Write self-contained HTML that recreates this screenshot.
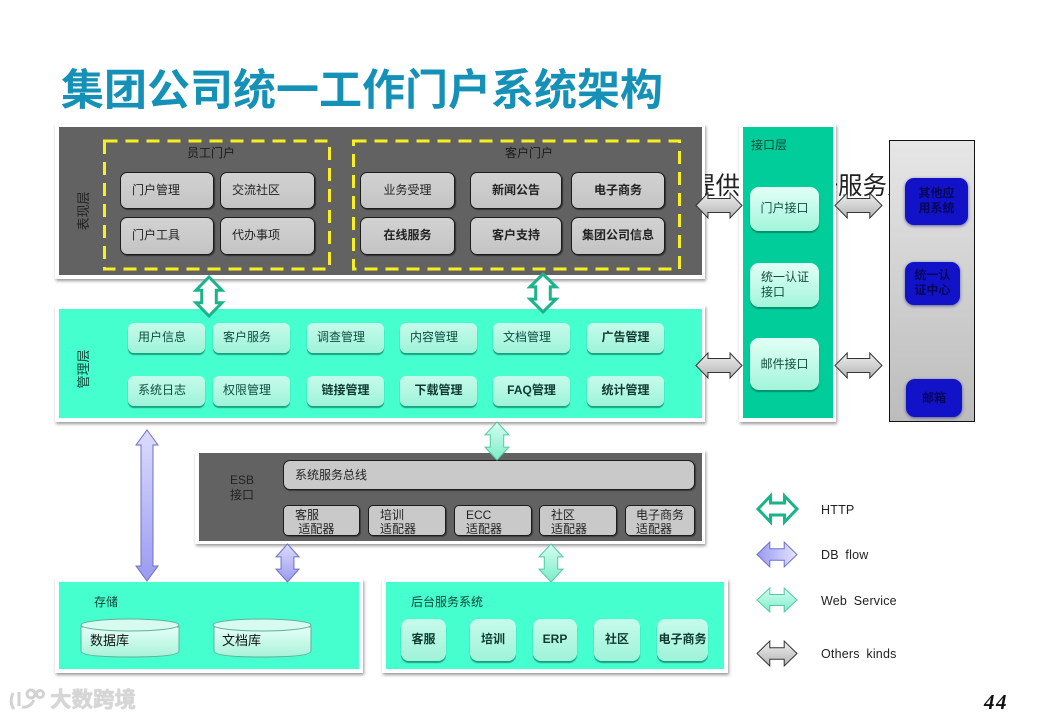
<!DOCTYPE html>
<html lang="zh">
<head>
<meta charset="utf-8">
<title>集团公司统一工作门户系统架构</title>
<style>
html,body{margin:0;padding:0;background:#fff}
#p{position:relative;width:1040px;height:720px;overflow:hidden;background:#fff;font-family:"Liberation Sans","Noto Sans CJK SC",sans-serif;color:#222}
#p div{position:absolute;box-sizing:border-box}
.t{font-size:12px;line-height:16px;white-space:nowrap}
.frame{background:#fff;box-shadow:1px 2px 3px rgba(0,0,0,.4)}
.g{background:#626262}
.m{background:#46ffcf}
.gb{background:linear-gradient(#d2d2d2,#c4c4c4);border:1px solid #1c1c1c;border-radius:7px;box-shadow:1px 1px 1px rgba(0,0,0,.5);font-size:12px;line-height:34px;text-align:center;color:#222}
.gb.b{font-weight:bold}
.tb{background:linear-gradient(#c6fbea,#9ef3d9);border-radius:6px;box-shadow:0 2px 1px rgba(0,110,85,.65);font-size:12px;line-height:29px;text-align:center;color:#114c3e}
.tb.l{text-align:left;padding-left:10px}
.tb.i{background:linear-gradient(#e2fff6,#a2f5da)}
.tb.b{font-weight:bold;color:#103a30}
.ad{background:#c9c9c9;border:1px solid #1c1c1c;border-radius:5px;font-size:12px;line-height:14px;color:#222;padding:2px 0 0 11px;box-shadow:1px 1px 1px rgba(0,0,0,.4)}
.blue{background:#1212c8;border-radius:9px;box-shadow:0 1px 3px rgba(20,20,120,.6);font-size:12px;line-height:15px;text-align:center;font-weight:bold;color:#07075a}
.v{width:44px;height:16px;font-size:13px;line-height:16px;text-align:center;white-space:nowrap;transform:rotate(-90deg)}
.lg{font-size:12.5px;line-height:16px;white-space:nowrap;color:#222;letter-spacing:.2px;word-spacing:3px}
svg{position:absolute;left:0;top:0}
</style>
</head>
<body>
<div id="p">

<div class="t" style="left:61px;top:62px;font-size:43px;line-height:58px;font-weight:bold;color:#1591b7">集团公司统一工作门户系统架构</div>

<div class="t" style="left:691px;top:172px;font-size:24.5px;line-height:30px;color:#222">提供内部统一服务人</div>

<!-- 表现层 -->
<div class="frame" style="left:55px;top:124px;width:650px;height:155px"></div>
<div class="g" style="left:59px;top:127px;width:643px;height:148px"></div>
<div class="v" style="left:62px;top:203px;color:#222">表现层</div>
<div class="t" style="left:187px;top:145px;color:#1a1a1a">员工门户</div>
<div class="t" style="left:505px;top:145px;color:#1a1a1a">客户门户</div>

<div class="gb" style="left:120px;top:172px;width:94px;height:37px;text-align:left;padding-left:11px">门户管理</div>
<div class="gb" style="left:220px;top:172px;width:95px;height:37px;text-align:left;padding-left:11px">交流社区</div>
<div class="gb" style="left:120px;top:217px;width:94px;height:38px;text-align:left;padding-left:11px">门户工具</div>
<div class="gb" style="left:220px;top:217px;width:95px;height:38px;text-align:left;padding-left:11px">代办事项</div>

<div class="gb" style="left:360px;top:172px;width:95px;height:37px">业务受理</div>
<div class="gb b" style="left:470px;top:172px;width:92px;height:37px">新闻公告</div>
<div class="gb b" style="left:571px;top:172px;width:94px;height:37px">电子商务</div>
<div class="gb b" style="left:360px;top:217px;width:95px;height:38px">在线服务</div>
<div class="gb b" style="left:470px;top:217px;width:92px;height:38px">客户支持</div>
<div class="gb b" style="left:571px;top:217px;width:94px;height:38px">集团公司信息</div>

<!-- 管理层 -->
<div class="frame" style="left:55px;top:305px;width:650px;height:117px"></div>
<div class="m" style="left:59px;top:309px;width:643px;height:109px"></div>
<div class="v" style="left:62px;top:361px;color:#14463a">管理层</div>

<div class="tb l" style="left:128px;top:323px;width:77px;height:30px">用户信息</div>
<div class="tb l" style="left:213px;top:323px;width:77px;height:30px">客户服务</div>
<div class="tb l" style="left:307px;top:323px;width:77px;height:30px">调查管理</div>
<div class="tb l" style="left:400px;top:323px;width:77px;height:30px">内容管理</div>
<div class="tb l" style="left:493px;top:323px;width:77px;height:30px">文档管理</div>
<div class="tb b" style="left:587px;top:323px;width:77px;height:30px">广告管理</div>
<div class="tb l" style="left:128px;top:376px;width:77px;height:30px">系统日志</div>
<div class="tb l" style="left:213px;top:376px;width:77px;height:30px">权限管理</div>
<div class="tb b" style="left:307px;top:376px;width:77px;height:30px">链接管理</div>
<div class="tb b" style="left:400px;top:376px;width:77px;height:30px">下载管理</div>
<div class="tb b" style="left:493px;top:376px;width:77px;height:30px">FAQ管理</div>
<div class="tb b" style="left:587px;top:376px;width:77px;height:30px">统计管理</div>

<!-- 接口层 -->
<div class="frame" style="left:739px;top:124px;width:97px;height:298px"></div>
<div style="left:743px;top:127px;width:90px;height:291px;background:#00cd9a"></div>
<div class="t" style="left:751px;top:137px;color:#0b4436">接口层</div>
<div class="tb i" style="left:750px;top:187px;width:69px;height:44px;line-height:43px;border-radius:9px">门户接口</div>
<div class="tb i" style="left:750px;top:263px;width:69px;height:44px;line-height:15px;border-radius:9px;text-align:left;padding:7px 0 0 11px">统一认证<br>接口</div>
<div class="tb i" style="left:750px;top:338px;width:69px;height:52px;line-height:52px;border-radius:9px">邮件接口</div>

<!-- 外部系统 -->
<div style="left:889px;top:140px;width:86px;height:282px;border:1px solid #111;background:linear-gradient(#e6e6e6,#bcbcbc)"></div>
<div class="blue" style="left:905px;top:178px;width:63px;height:47px;padding-top:8px">其他应<br>用系统</div>
<div class="blue" style="left:905px;top:262px;width:55px;height:43px;padding-top:6px">统一认<br>证中心</div>
<div class="blue" style="left:906px;top:379px;width:56px;height:38px;line-height:38px">邮箱</div>

<!-- ESB -->
<div class="frame" style="left:195px;top:450px;width:510px;height:94px"></div>
<div class="g" style="left:199px;top:453px;width:503px;height:88px"></div>
<div class="t" style="left:230px;top:473px;width:30px;color:#222;line-height:15px;white-space:normal">ESB 接口</div>
<div class="ad" style="left:283px;top:460px;width:412px;height:30px;line-height:26px;border-radius:7px;padding:1px 0 0 11px">系统服务总线</div>
<div class="ad" style="left:283px;top:505px;width:77px;height:31px">客服<br>&nbsp;适配器</div>
<div class="ad" style="left:368px;top:505px;width:78px;height:31px">培训<br>适配器</div>
<div class="ad" style="left:454px;top:505px;width:78px;height:31px">ECC<br>适配器</div>
<div class="ad" style="left:539px;top:505px;width:78px;height:31px">社区<br>适配器</div>
<div class="ad" style="left:625px;top:505px;width:70px;height:31px;padding-left:10px">电子商务<br>适配器</div>

<!-- 存储 -->
<div class="frame" style="left:55px;top:579px;width:308px;height:94px"></div>
<div class="m" style="left:59px;top:582px;width:300px;height:87px"></div>
<div class="t" style="left:94px;top:594px;color:#123f34">存储</div>

<!-- 后台 -->
<div class="frame" style="left:382px;top:579px;width:346px;height:94px"></div>
<div class="m" style="left:386px;top:582px;width:338px;height:87px"></div>
<div class="t" style="left:411px;top:594px;color:#123f34">后台服务系统</div>
<div class="tb b" style="left:401px;top:619px;width:45px;height:42px;line-height:41px;border-radius:8px">客服</div>
<div class="tb b" style="left:470px;top:619px;width:46px;height:42px;line-height:41px;border-radius:8px">培训</div>
<div class="tb b" style="left:533px;top:619px;width:44px;height:42px;line-height:41px;border-radius:8px">ERP</div>
<div class="tb b" style="left:594px;top:619px;width:46px;height:42px;line-height:41px;border-radius:8px">社区</div>
<div class="tb b" style="left:657px;top:619px;width:51px;height:42px;line-height:41px;border-radius:8px">电子商务</div>

<svg width="1040" height="720" viewBox="0 0 1040 720" xmlns="http://www.w3.org/2000/svg">
<defs>
<linearGradient id="c1" x1="0" y1="0" x2="0" y2="1"><stop offset="0" stop-color="#e6fff7"/><stop offset="1" stop-color="#a8f2da"/></linearGradient>
<linearGradient id="gh" x1="0" y1="0" x2="0" y2="1"><stop offset="0" stop-color="#efefef"/><stop offset="1" stop-color="#b4b4b4"/></linearGradient>
<linearGradient id="pv" x1="0" y1="0" x2="0" y2="1"><stop offset="0" stop-color="#dcdcff"/><stop offset="1" stop-color="#9a9af0"/></linearGradient>
<linearGradient id="ph" x1="0" y1="0" x2="1" y2="0"><stop offset="0" stop-color="#9a9af0"/><stop offset="1" stop-color="#e4e4ff"/></linearGradient>
<linearGradient id="wv" x1="0" y1="0" x2="0" y2="1"><stop offset="0" stop-color="#d4fff0"/><stop offset="1" stop-color="#7eecc9"/></linearGradient>
<polygon id="hA" points="0,50 26,0 26,22 74,22 74,0 100,50 74,100 74,78 26,78 26,100" vector-effect="non-scaling-stroke"/>
<polygon id="hB" points="0,50 32,0 32,27 68,27 68,0 100,50 68,100 68,73 32,73 32,100" vector-effect="non-scaling-stroke"/>
<polygon id="vA" points="50,0 100,34 78,34 78,66 100,66 50,100 0,66 22,66 22,34 0,34" vector-effect="non-scaling-stroke"/>
</defs>

<!-- dashed portal outlines -->
<g fill="none" stroke="#f7f01e" stroke-width="3" stroke-dasharray="13 8">
<rect x="104.5" y="141" width="225" height="128"/>
<rect x="353.5" y="141" width="326" height="128"/>
</g>

<!-- cylinders -->
<g stroke="#5fb09a" stroke-width="1">
<path d="M81 627 V651 Q81 657 130 657 Q179 657 179 651 V627 Z" fill="url(#c1)"/>
<ellipse cx="130" cy="625" rx="49" ry="6" fill="#d8fbf0"/>
<path d="M214 627 V651 Q214 657 262 657 Q311 657 311 651 V627 Z" fill="url(#c1)"/>
<ellipse cx="262" cy="625" rx="49" ry="6" fill="#d8fbf0"/>
</g>
<text x="90" y="645" font-size="13" fill="#111" font-family="Liberation Sans, Noto Sans CJK SC, sans-serif">数据库</text>
<text x="222" y="645" font-size="13" fill="#111" font-family="Liberation Sans, Noto Sans CJK SC, sans-serif">文档库</text>

<!-- gray arrows -->
<g fill="url(#gh)" stroke="#333" stroke-width="1">
<use href="#hA" transform="translate(696 193) scale(.46 .25)"/>
<use href="#hA" transform="translate(835 193) scale(.47 .25)"/>
<use href="#hA" transform="translate(696 353) scale(.46 .25)"/>
<use href="#hA" transform="translate(835 353) scale(.47 .25)"/>
<use href="#hB" transform="translate(757 641) scale(.40 .25)"/>
</g>
<!-- HTTP arrows -->
<g fill="#fff" stroke="#19b48a" stroke-width="3">
<use href="#vA" transform="translate(196 277) scale(.26 .39)"/>
<use href="#vA" transform="translate(530 274) scale(.26 .38)"/>
<use href="#hB" transform="translate(758 496) scale(.39 .26)"/>
</g>
<!-- DB arrows -->
<g fill="url(#pv)" stroke="#6f6fc8" stroke-width="1">
<polygon points="147,430 158,445 153,445 153,566 158,566 147,581 136,566 141,566 141,445 136,445"/>
<use href="#vA" transform="translate(276 544) scale(.23 .38)"/>
</g>
<use href="#hB" fill="url(#ph)" stroke="#6f6fc8" stroke-width="1" transform="translate(757 542) scale(.40 .25)"/>
<!-- Web service arrows -->
<g fill="url(#wv)" stroke="#52c9a4" stroke-width="1">
<use href="#vA" transform="translate(485 422) scale(.24 .38)"/>
<use href="#vA" transform="translate(539 544) scale(.24 .38)"/>
<use href="#hB" transform="translate(757 588) scale(.40 .24)"/>
</g>

<!-- watermark logo -->
<g fill="none" stroke="#d2d2d2" stroke-width="3">
<path d="M13 693 Q9 703 14 709 M19 692 V706 M22 707 Q30 708 34 700"/>
<circle cx="31" cy="694" r="4"/>
<circle cx="40" cy="694" r="3.5"/>
</g>
</svg>

<div class="t" style="left:50px;top:686px;font-size:21.5px;line-height:28px;font-weight:bold;color:#d6d6d6;text-shadow:0 0 1px #aaa">大数跨境</div>

<div class="lg" style="left:821px;top:502px">HTTP</div>
<div class="lg" style="left:821px;top:547px">DB flow</div>
<div class="lg" style="left:821px;top:593px">Web Service</div>
<div class="lg" style="left:821px;top:646px">Others kinds</div>

<div class="t" style="left:984px;top:690px;font-family:'Liberation Serif',serif;font-size:21px;line-height:24px;font-weight:bold;font-style:italic;letter-spacing:1.5px;color:#111">44</div>

</div>
</body>
</html>
